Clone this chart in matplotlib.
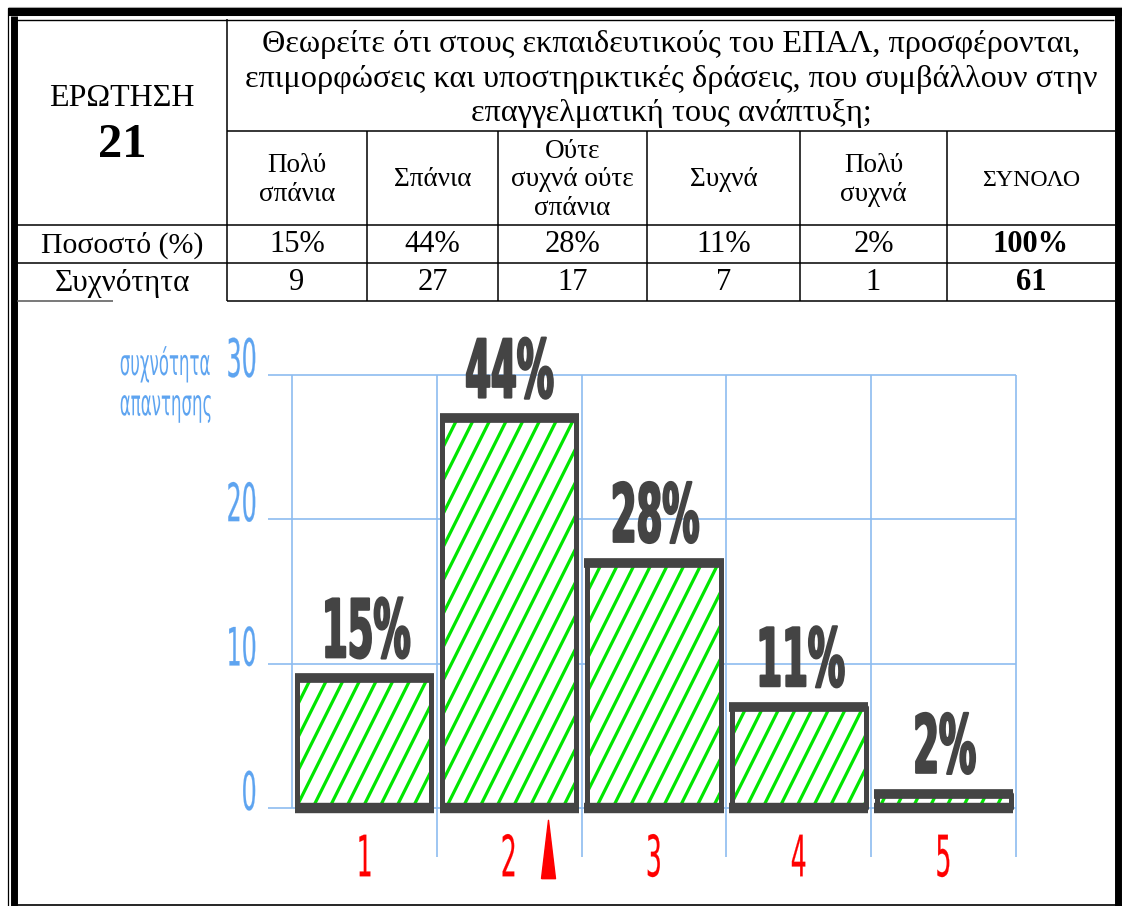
import numpy as np
import matplotlib
matplotlib.use('Agg')
import matplotlib.pyplot as plt
import matplotlib.hatch as mhatch
from matplotlib.path import Path
from matplotlib.transforms import Affine2D
from matplotlib import patheffects

# 数据
question_no = '21'
question = ('Θεωρείτε ότι στους εκπαιδευτικούς του ΕΠΑΛ, προσφέρονται,\n'
            'επιμορφώσεις και υποστηρικτικές δράσεις, που συμβάλλουν στην\n'
            'επαγγελματική τους ανάπτυξη;')
categories = ['Πολύ\nσπάνια', 'Σπάνια', 'Ούτε\nσυχνά ούτε\nσπάνια', 'Συχνά', 'Πολύ\nσυχνά']
percents = [15, 44, 28, 11, 2]
counts = [9, 27, 17, 7, 1]
total_pct = 100
total_n = 61
codes = [1, 2, 3, 4, 5]
yticks = [0, 10, 20, 30]

SERIF = ['Liberation Serif', 'DejaVu Serif']
SANS = ['DejaVu Sans']
BLUE = '#5ea4f0'
GRID = '#8dbcf0'
DARK = '#444444'
GREEN = '#00e600'


class Squeeze(patheffects.AbstractPathEffect):
    """把文字水平压窄（模拟窄体字），文字仍是普通 Text；stroke 用来加粗笔画"""
    def __init__(self, sx, anchor='center', stroke=0.0):
        super().__init__()
        self.sx = sx
        self.anchor = anchor
        self.stroke = stroke

    def draw_path(self, renderer, gc, tpath, affine, rgbFace=None):
        ext = tpath.get_extents()
        a = {'left': 0.0, 'center': (ext.x0 + ext.x1) / 2, 'right': ext.x1}[self.anchor]
        tr = Affine2D().translate(-a, 0).scale(self.sx, 1).translate(a, 0) + affine
        gc0 = renderer.new_gc()
        gc0.copy_properties(gc)
        if self.stroke > 0 and rgbFace is not None:
            gc0.set_linewidth(self.stroke)
            gc0.set_foreground(rgbFace)
            gc0.set_joinstyle('round')
        renderer.draw_path(gc0, tpath, tr, rgbFace)
        gc0.restore()


class SteepHatch(mhatch.HatchPatternBase):
    """比默认 '/' 更陡的斜线填充"""
    def __init__(self, hatch, density):
        n = int(hatch.count('/') * density)
        self.offsets = np.arange(-(n // 2), n + 1) / n if n else np.array([])
        self.num_vertices = len(self.offsets) * 2

    def set_vertices_and_codes(self, vertices, codes):
        vertices[0::2, 0] = self.offsets
        vertices[0::2, 1] = 0.0
        vertices[1::2, 0] = self.offsets + 0.5
        vertices[1::2, 1] = 1.0
        codes[0::2] = Path.MOVETO
        codes[1::2] = Path.LINETO


try:
    mhatch._hatch_types[mhatch._hatch_types.index(mhatch.NorthEastHatch)] = SteepHatch
except (AttributeError, ValueError):
    pass

W, H = 1122, 906
fig = plt.figure(figsize=(W / 100, H / 100), dpi=100)

# ---------- 表格部分（像素坐标）----------
bg = fig.add_axes([0, 0, 1, 1])
bg.set_xlim(0, W)
bg.set_ylim(H, 0)
bg.axis('off')


def line(x0, x1, y0, y1, lw=1.1, color='black'):
    bg.plot([x0, x1], [y0, y1], color=color, lw=lw, solid_capstyle='butt')


# 外框
line(8, 1122, 6.5, 6.5, lw=0.8, color='#aaaaaa')
line(8, 1122, 12, 12, lw=5.8)
line(11, 1114, 19.5, 19.5, lw=1.0)
line(8, 8, 8, 906, lw=0.9)
line(14.5, 14.5, 16, 906, lw=5.0)
line(1118, 1118, 8, 906, lw=5.0)
line(17, 1122, 905, 905, lw=1.2)

# 内部线
col_edges = [227, 367, 498, 647, 800, 947, 1115]
line(227, 227, 19, 301)
line(227, 1115, 131, 131)
for x in col_edges[1:-1]:
    line(x, x, 131, 301)
line(17, 1115, 225, 225)
line(17, 1115, 263, 263)
line(227, 1115, 301, 301)
line(17, 113, 301, 301, color='#555555')

bg.text(122, 98, 'ΕΡΩΤΗΣΗ', family=SERIF, fontsize=23, ha='center', va='center')
bg.text(122, 145, question_no, family=SERIF, fontsize=35, fontweight='bold',
        ha='center', va='center')
bg.text(671, 79, question, family=SERIF, fontsize=23.2, ha='center', va='center',
        linespacing=1.27)

centers = [(col_edges[i] + col_edges[i + 1]) / 2 for i in range(len(col_edges) - 1)]
for cx, lab in zip(centers, categories):
    bg.text(cx, 180, lab, family=SERIF, fontsize=19.5, ha='center', va='center',
            linespacing=1.17)
bg.text(centers[-1], 180, 'ΣΥΝΟΛΟ', family=SERIF, fontsize=17.2, ha='center', va='center')

bg.text(122, 245, 'Ποσοστό (%)', family=SERIF, fontsize=21.5, ha='center', va='center')
bg.text(122, 283, 'Συχνότητα', family=SERIF, fontsize=22.5, ha='center', va='center')
for cx, p, n in zip(centers, percents, counts):
    bg.text(cx, 245, f'{p}%', family=SERIF, fontsize=22, ha='center', va='center')
    bg.text(cx, 283, f'{n}', family=SERIF, fontsize=22, ha='center', va='center')
bg.text(centers[-1], 245, f'{total_pct}%', family=SERIF, fontsize=22,
        fontweight='bold', ha='center', va='center')
bg.text(centers[-1], 283, f'{total_n}', family=SERIF, fontsize=22,
        fontweight='bold', ha='center', va='center')

# ---------- 柱状图 ----------
x0, x1, y0, y1 = 292, 1016, 808, 375
ax = fig.add_axes([x0 / W, (H - y0) / H, (x1 - x0) / W, (y0 - y1) / H])
ax.set_xlim(0.5, 5.5)
ax.set_ylim(0, 30)
ax.axis('off')

px = (x1 - x0) / 5.0       # 每类像素宽度
py = (y0 - y1) / 30.0       # 每单位像素高度

ax.hlines(yticks, 0.5 - 24 / px, 5.5, color=GRID, lw=1.2, clip_on=False, zorder=1)
edges = np.arange(0.5, 6.0, 1.0)
ax.vlines(edges[0], 0, 30, color=GRID, lw=1.2, clip_on=False, zorder=1)
ax.vlines(edges[1:], -49 / py, 30, color=GRID, lw=1.2, clip_on=False, zorder=1)

plt.rcParams['hatch.linewidth'] = 2.3
bw = 0.926
ax.bar(codes, counts, width=bw, facecolor='white', edgecolor=GREEN, hatch='/',
       lw=0, zorder=2)
ax.bar(codes, counts, width=bw, fill=False, edgecolor=DARK, lw=3.6,
       joinstyle='round', zorder=3, clip_on=False)
# 顶边和底边更粗
cx_arr = np.array(codes, dtype=float)
ext = bw / 2 + 2.5 / px
ax.hlines(np.zeros(len(codes)), cx_arr - ext, cx_arr + ext, color=DARK,
          lw=7.5, zorder=3, clip_on=False)
ax.hlines(counts, cx_arr - ext, cx_arr + ext, color=DARK,
          lw=7.0, zorder=3, clip_on=False)

for c, n, p in zip(codes, counts, percents):
    ax.annotate(f'{p}%', (c, n), xytext=(0, 15), textcoords='offset points',
                ha='center', va='baseline', family=SANS, fontweight='bold',
                fontsize=58, color=DARK, path_effects=[Squeeze(0.46, stroke=1.6)])
    ax.annotate(f'{c}', (c, 0), xytext=(0, -38), textcoords='offset points',
                ha='center', va='center', family=SANS, fontsize=41, color='red',
                path_effects=[Squeeze(0.44, stroke=0.15)])

for t in yticks:
    ax.annotate(f'{t}', (0.5, t), xytext=(-24, 9.5), textcoords='offset points',
                ha='right', va='center', family=SANS, fontsize=38, color=BLUE,
                path_effects=[Squeeze(0.45, 'right', stroke=0.15)])

ax.annotate('συχνότητα', (0.5, 30), xytext=(-124, 0), textcoords='offset points',
            ha='left', va='baseline', family=SANS, fontsize=26, color=BLUE,
            path_effects=[Squeeze(0.46, 'left')])
ax.annotate('απαντησης', (0.5, 30), xytext=(-124, -29), textcoords='offset points',
            ha='left', va='baseline', family=SANS, fontsize=26, color=BLUE,
            path_effects=[Squeeze(0.46, 'left')])

# 红色小三角（原图中的指针标记）
tri = Path([(-0.12, -0.5), (0.12, -0.5), (0.0, 0.5), (-0.12, -0.5)])
ax.plot([codes[1] + 0.27], [-2.85], marker=tri, ms=42, color='red', clip_on=False,
        zorder=4)

fig.savefig('out.png', dpi=100)
